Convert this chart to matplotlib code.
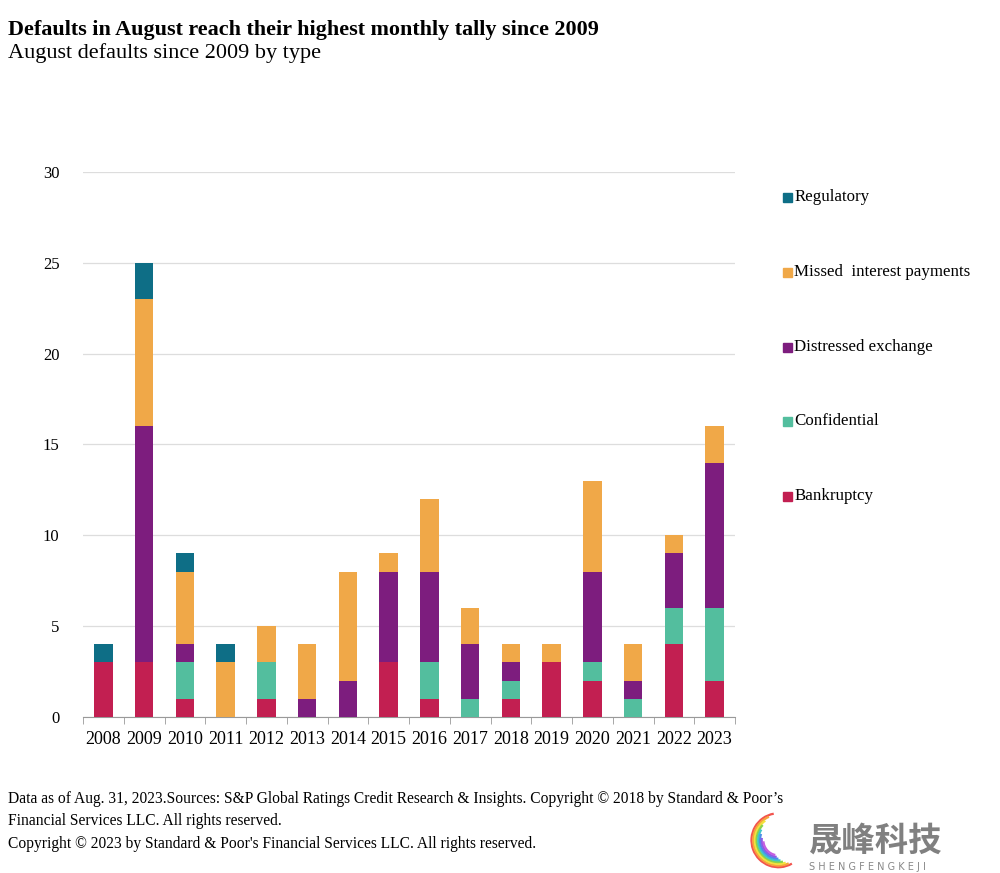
import matplotlib
matplotlib.use("Agg")
import matplotlib.pyplot as plt
import numpy as np
from matplotlib.patches import Rectangle, Arc

years = ["2008", "2009", "2010", "2011", "2012", "2013", "2014", "2015",
         "2016", "2017", "2018", "2019", "2020", "2021", "2022", "2023"]
bankruptcy = [3, 3, 1, 0, 1, 0, 0, 3, 1, 0, 1, 3, 2, 0, 4, 2]
confidential = [0, 0, 2, 0, 2, 0, 0, 0, 2, 1, 1, 0, 1, 1, 2, 4]
distressed = [0, 13, 1, 0, 0, 1, 2, 5, 5, 3, 1, 0, 5, 1, 3, 8]
missed = [0, 7, 4, 3, 2, 3, 6, 1, 4, 2, 1, 1, 5, 2, 1, 2]
regulatory = [1, 2, 1, 1, 0, 0, 0, 0, 0, 0, 0, 0, 0, 0, 0, 0]

series = [("Bankruptcy", bankruptcy, "#C21F51"),
          ("Confidential", confidential, "#53BE9E"),
          ("Distressed exchange", distressed, "#7D1D7E"),
          ("Missed  interest payments", missed, "#F0A848"),
          ("Regulatory", regulatory, "#0E6E86")]

plt.rcParams['font.family'] = ['Liberation Serif', 'DejaVu Serif']

fig = plt.figure(figsize=(10, 8.73), dpi=100)
ax = fig.add_axes([0.083, 0.1787, 0.652, 0.6243])

x = np.arange(len(years))
bottom = np.zeros(len(years))
for name, vals, col in series:
    v = np.array(vals, dtype=float)
    ax.bar(x, v, bottom=bottom, width=0.45, color=col, label=name, zorder=3)
    bottom += v

ax.set_xlim(-0.5, len(years) - 0.5)
ax.set_ylim(0, 30)
ax.set_yticks([0, 5, 10, 15, 20, 25, 30])
ax.grid(axis='y', color='#dddddd', linewidth=0.9, zorder=0)
for s in ['top', 'right', 'left']:
    ax.spines[s].set_visible(False)
ax.spines['bottom'].set_color('#999999')
ax.set_xticks(x)
ax.set_xticklabels(years, fontsize=13)
ax.set_xticks(np.arange(-0.5, len(years), 1), minor=True)
ax.tick_params(axis='x', which='major', length=0, pad=10)
ax.tick_params(axis='x', which='minor', length=5, color='#999999', direction='out')
ax.tick_params(axis='y', length=0, labelsize=12, pad=17)

# legend (manual placement)
legend_items = [("Regulatory", "#0E6E86", 197), ("Missed  interest payments", "#F0A848", 272),
                ("Distressed exchange", "#7D1D7E", 347), ("Confidential", "#53BE9E", 421),
                ("Bankruptcy", "#C21F51", 496)]
for name, col, ypx in legend_items:
    yf = 1 - ypx / 873
    fig.patches.append(Rectangle((0.7825, yf - 0.0055), 0.0090, 0.0105, transform=fig.transFigure,
                                 color=col, figure=fig))
    fig.text(0.7945, yf, name, fontsize=12.2, va='center', ha='left')

fig.text(0.008, 0.9655, "Defaults in August reach their highest monthly tally since 2009",
         fontsize=15.9, fontweight='bold', va='center', ha='left')
fig.text(0.008, 0.9395, "August defaults since 2009 by type", fontsize=16, va='center', ha='left')

fig.text(0.008, 1 - 799 / 873,
         "Data as of Aug. 31, 2023.Sources: S&P Global Ratings Credit Research & Insights. Copyright \u00a9 2018 by Standard & Poor\u2019s",
         fontsize=11.2, va='center', ha='left')
fig.text(0.008, 1 - 821 / 873, "Financial Services LLC. All rights reserved.",
         fontsize=11.2, va='center', ha='left')
fig.text(0.008, 1 - 844 / 873, "Copyright \u00a9 2023 by Standard & Poor's Financial Services LLC. All rights reserved.",
         fontsize=11.2, va='center', ha='left')

# watermark
fig.text(0.809, 1 - 841 / 873, "晟峰科技", fontsize=24, color='#808080', va='center', ha='left',
         family=['Noto Sans CJK SC', 'DejaVu Sans'], fontweight='bold')
fig.text(0.809, 1 - 867 / 873, "S H E N G F E N G K E J I", fontsize=7, color='#888888',
         va='center', ha='left', family=['DejaVu Sans'])
lax = fig.add_axes([0.748, 0.005, 0.058, 0.065])
lax.set_xlim(-1, 1)
lax.set_ylim(-1, 1)
lax.set_aspect('equal')
lax.axis('off')
arc_cols = ['#F2544E', '#F6A33B', '#F3E23C', '#8CD34B', '#3FC7C9', '#4A8FE7', '#8B5CE6', '#C45EE0']
for i, c in enumerate(arc_cols):
    r = 0.95 - i * 0.06
    lax.add_patch(Arc((0.05, 0), 2 * r, 2 * r, theta1=100 + i * 12, theta2=300 - i * 6,
                      color=c, lw=1.6))

fig.savefig("out.png", dpi=100)
